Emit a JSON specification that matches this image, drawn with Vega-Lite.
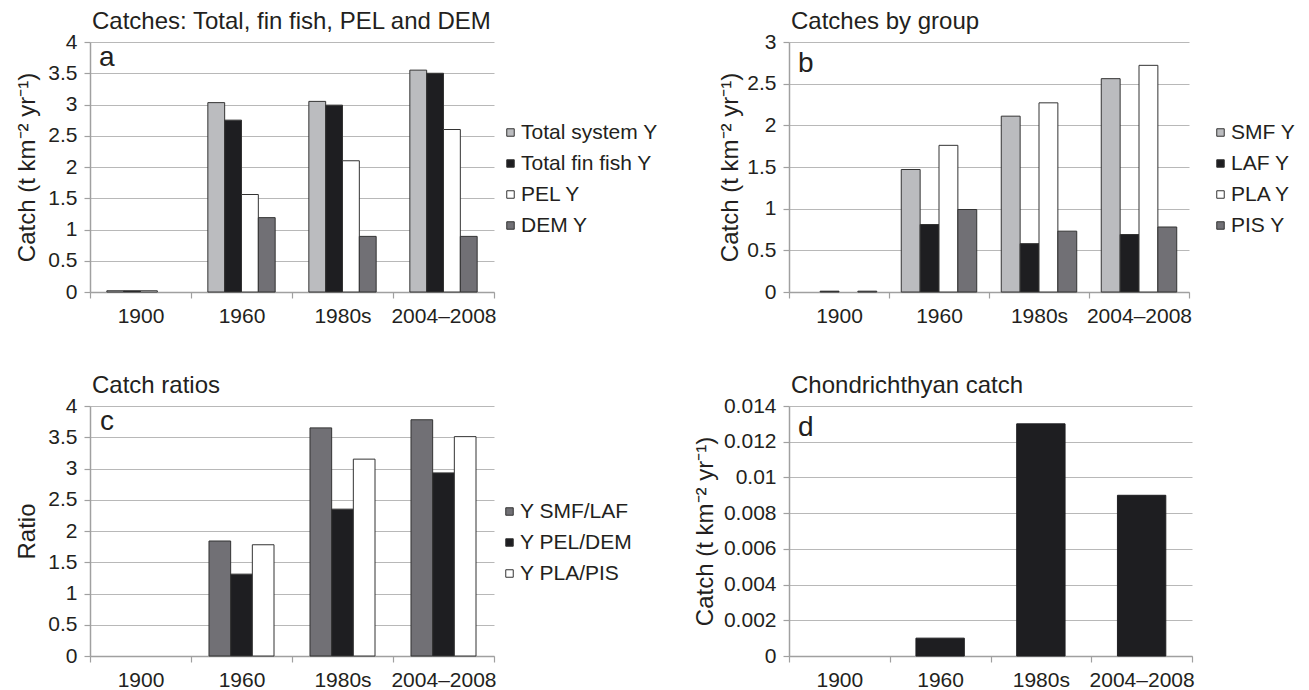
{
  "$schema": "https://vega.github.io/schema/vega-lite/v6.json",
  "autosize": {"type": "none"},
  "padding": {"left": 90, "top": 42, "right": 1219, "bottom": 648},
  "background": "white",
  "datasets": {
    "a": [
      {"period": "1900", "series": "Total system Y", "value": 0.02},
      {"period": "1900", "series": "Total fin fish Y", "value": 0.02},
      {"period": "1900", "series": "PEL Y", "value": 0.02},
      {"period": "1960", "series": "Total system Y", "value": 3.03},
      {"period": "1960", "series": "Total fin fish Y", "value": 2.75},
      {"period": "1960", "series": "PEL Y", "value": 1.56},
      {"period": "1960", "series": "DEM Y", "value": 1.19},
      {"period": "1980s", "series": "Total system Y", "value": 3.05},
      {"period": "1980s", "series": "Total fin fish Y", "value": 2.99},
      {"period": "1980s", "series": "PEL Y", "value": 2.1},
      {"period": "1980s", "series": "DEM Y", "value": 0.89},
      {"period": "2004–2008", "series": "Total system Y", "value": 3.55},
      {"period": "2004–2008", "series": "Total fin fish Y", "value": 3.5},
      {"period": "2004–2008", "series": "PEL Y", "value": 2.6},
      {"period": "2004–2008", "series": "DEM Y", "value": 0.89}
    ],
    "b": [
      {"period": "1900", "series": "LAF Y", "value": 0.01},
      {"period": "1900", "series": "PIS Y", "value": 0.01},
      {"period": "1960", "series": "SMF Y", "value": 1.47},
      {"period": "1960", "series": "LAF Y", "value": 0.81},
      {"period": "1960", "series": "PLA Y", "value": 1.76},
      {"period": "1960", "series": "PIS Y", "value": 0.99},
      {"period": "1980s", "series": "SMF Y", "value": 2.11},
      {"period": "1980s", "series": "LAF Y", "value": 0.58},
      {"period": "1980s", "series": "PLA Y", "value": 2.27},
      {"period": "1980s", "series": "PIS Y", "value": 0.73},
      {"period": "2004–2008", "series": "SMF Y", "value": 2.56},
      {"period": "2004–2008", "series": "LAF Y", "value": 0.69},
      {"period": "2004–2008", "series": "PLA Y", "value": 2.72},
      {"period": "2004–2008", "series": "PIS Y", "value": 0.78}
    ],
    "c": [
      {"period": "1960", "series": "Y SMF/LAF", "value": 1.84},
      {"period": "1960", "series": "Y PEL/DEM", "value": 1.31},
      {"period": "1960", "series": "Y PLA/PIS", "value": 1.78},
      {"period": "1980s", "series": "Y SMF/LAF", "value": 3.65},
      {"period": "1980s", "series": "Y PEL/DEM", "value": 2.35},
      {"period": "1980s", "series": "Y PLA/PIS", "value": 3.15},
      {"period": "2004–2008", "series": "Y SMF/LAF", "value": 3.78},
      {"period": "2004–2008", "series": "Y PEL/DEM", "value": 2.93},
      {"period": "2004–2008", "series": "Y PLA/PIS", "value": 3.51}
    ],
    "d": [
      {"period": "1960", "value": 0.001},
      {"period": "1980s", "value": 0.013},
      {"period": "2004–2008", "value": 0.009}
    ]
  },
  "config": {
    "font": "Liberation Sans",
    "view": {"stroke": null},
    "axis": {
      "labelFont": "Liberation Sans", "labelFontSize": 21, "labelColor": "#231f20", "labelOverlap": false,
      "titleFont": "Liberation Sans", "titleFontSize": 24, "titleFontWeight": "normal", "titleColor": "#231f20",
      "domainColor": "#a0a0a0", "tickColor": "#a0a0a0", "gridColor": "#b8b8b8", "tickSize": 6, "domainWidth": 1.5, "tickWidth": 1.2
    },
    "axisX": {"grid": false, "labelAngle": 0, "labelPadding": 7, "tickBand": "extent", "title": null},
    "axisY": {"grid": true, "labelPadding": 7, "format": "~g", "titleAngle": 270, "titleBaseline": "alphabetic", "titleAlign": "center", "titleY": 125},
    "legend": {
      "orient": "none", "title": null, "symbolType": "square", "symbolSize": 56,
      "symbolStrokeColor": "#333333", "symbolStrokeWidth": 1,
      "labelFont": "Liberation Sans", "labelFontSize": 21, "labelColor": "#231f20",
      "rowPadding": 9, "labelOffset": 0
    },
    "title": {"anchor": "start", "frame": "group", "font": "Liberation Sans", "fontSize": 24, "fontWeight": "normal", "color": "#231f20", "offset": -3, "dx": 2}
  },
  "bounds": "flush",
  "columns": 2,
  "spacing": {"row": 114, "column": 295},
  "resolve": {"scale": {"color": "independent", "xOffset": "independent", "x": "independent", "y": "independent"}, "legend": {"color": "independent"}},
  "concat": [
    {
      "width": 404, "height": 250,
      "title": {"text": "Catches: Total, fin fish, PEL and DEM"},
      "layer": [
        {
          "data": {"name": "a"},
          "mark": {"type": "bar", "stroke": "#333333", "strokeWidth": 1},
          "encoding": {
            "x": {"field": "period", "type": "nominal", "scale": {"domain": ["1900", "1960", "1980s", "2004–2008"], "paddingInner": 0, "paddingOuter": 0}},
            "xOffset": {"field": "series", "type": "nominal", "scale": {"domain": ["Total system Y", "Total fin fish Y", "PEL Y", "DEM Y"], "paddingInner": 0, "paddingOuter": 1.02}},
            "y": {"field": "value", "type": "quantitative", "scale": {"domain": [0, 4], "nice": false}, "axis": {"values": [0, 0.5, 1, 1.5, 2, 2.5, 3, 3.5, 4], "title": "Catch (t km⁻² yr⁻¹)", "titleX": -56}},
            "color": {"field": "series", "type": "nominal", "scale": {"domain": ["Total system Y", "Total fin fish Y", "PEL Y", "DEM Y"], "range": ["#bbbcbf", "#1e1e21", "#ffffff", "#717075"]}, "legend": {"legendX": 410, "legendY": 80}}
          }
        },
        {
          "data": {"values": [{"label": "a"}]},
          "mark": {"type": "text", "align": "left", "baseline": "alphabetic", "fontSize": 28, "font": "Liberation Sans", "color": "#231f20", "dx": 9},
          "encoding": {
            "x": {"datum": "1900", "bandPosition": 0},
            "y": {"datum": 3.62, "type": "quantitative", "axis": {"values": [0, 0.5, 1, 1.5, 2, 2.5, 3, 3.5, 4], "title": "Catch (t km⁻² yr⁻¹)", "titleX": -56}},
            "text": {"field": "label"}
          }
        }
      ]
    },
    {
      "width": 400, "height": 250,
      "title": {"text": "Catches by group"},
      "layer": [
        {
          "data": {"name": "b"},
          "mark": {"type": "bar", "stroke": "#333333", "strokeWidth": 1},
          "encoding": {
            "x": {"field": "period", "type": "nominal", "scale": {"domain": ["1900", "1960", "1980s", "2004–2008"], "paddingInner": 0, "paddingOuter": 0}},
            "xOffset": {"field": "series", "type": "nominal", "scale": {"domain": ["SMF Y", "LAF Y", "PLA Y", "PIS Y"], "paddingInner": 0, "paddingOuter": 0.65}},
            "y": {"field": "value", "type": "quantitative", "scale": {"domain": [0, 3], "nice": false}, "axis": {"values": [0, 0.5, 1, 1.5, 2, 2.5, 3], "title": "Catch (t km⁻² yr⁻¹)", "titleX": -52}},
            "color": {"field": "series", "type": "nominal", "scale": {"domain": ["SMF Y", "LAF Y", "PLA Y", "PIS Y"], "range": ["#bbbcbf", "#1e1e21", "#ffffff", "#717075"]}, "legend": {"legendX": 421, "legendY": 80}}
          }
        },
        {
          "data": {"values": [{"label": "b"}]},
          "mark": {"type": "text", "align": "left", "baseline": "alphabetic", "fontSize": 28, "font": "Liberation Sans", "color": "#231f20", "dx": 9},
          "encoding": {
            "x": {"datum": "1900", "bandPosition": 0},
            "y": {"datum": 2.64, "type": "quantitative", "axis": {"values": [0, 0.5, 1, 1.5, 2, 2.5, 3], "title": "Catch (t km⁻² yr⁻¹)", "titleX": -52}},
            "text": {"field": "label"}
          }
        }
      ]
    },
    {
      "width": 404, "height": 250,
      "title": {"text": "Catch ratios"},
      "layer": [
        {
          "data": {"name": "c"},
          "mark": {"type": "bar", "stroke": "#333333", "strokeWidth": 1},
          "encoding": {
            "x": {"field": "period", "type": "nominal", "scale": {"domain": ["1900", "1960", "1980s", "2004–2008"], "paddingInner": 0, "paddingOuter": 0}},
            "xOffset": {"field": "series", "type": "nominal", "scale": {"domain": ["Y SMF/LAF", "Y PEL/DEM", "Y PLA/PIS"], "paddingInner": 0, "paddingOuter": 0.83}},
            "y": {"field": "value", "type": "quantitative", "scale": {"domain": [0, 4], "nice": false}, "axis": {"values": [0, 0.5, 1, 1.5, 2, 2.5, 3, 3.5, 4], "title": "Ratio", "titleX": -56}},
            "color": {"field": "series", "type": "nominal", "scale": {"domain": ["Y SMF/LAF", "Y PEL/DEM", "Y PLA/PIS"], "range": ["#717075", "#1e1e21", "#ffffff"]}, "legend": {"legendX": 409, "legendY": 95}}
          }
        },
        {
          "data": {"values": [{"label": "c"}]},
          "mark": {"type": "text", "align": "left", "baseline": "alphabetic", "fontSize": 28, "font": "Liberation Sans", "color": "#231f20", "dx": 10},
          "encoding": {
            "x": {"datum": "1900", "bandPosition": 0},
            "y": {"datum": 3.62, "type": "quantitative", "axis": {"values": [0, 0.5, 1, 1.5, 2, 2.5, 3, 3.5, 4], "title": "Ratio", "titleX": -56}},
            "text": {"field": "label"}
          }
        }
      ]
    },
    {
      "width": 403, "height": 250,
      "title": {"text": "Chondrichthyan catch"},
      "layer": [
        {
          "data": {"name": "d"},
          "mark": {"type": "bar", "color": "#1e1e21", "stroke": "#1e1e21", "strokeWidth": 1, "width": {"band": 0.48}},
          "encoding": {
            "x": {"field": "period", "type": "nominal", "scale": {"domain": ["1900", "1960", "1980s", "2004–2008"], "paddingInner": 0, "paddingOuter": 0}},
            "y": {"field": "value", "type": "quantitative", "scale": {"domain": [0, 0.014], "nice": false}, "axis": {"values": [0, 0.002, 0.004, 0.006, 0.008, 0.01, 0.012, 0.014], "title": "Catch (t km⁻² yr⁻¹)", "titleX": -77}}
          }
        },
        {
          "data": {"values": [{"label": "d"}]},
          "mark": {"type": "text", "align": "left", "baseline": "alphabetic", "fontSize": 28, "font": "Liberation Sans", "color": "#231f20", "dx": 9},
          "encoding": {
            "x": {"datum": "1900", "bandPosition": 0},
            "y": {"datum": 0.01232, "type": "quantitative", "axis": {"values": [0, 0.002, 0.004, 0.006, 0.008, 0.01, 0.012, 0.014], "title": "Catch (t km⁻² yr⁻¹)", "titleX": -77}},
            "text": {"field": "label"}
          }
        }
      ]
    }
  ]
}
